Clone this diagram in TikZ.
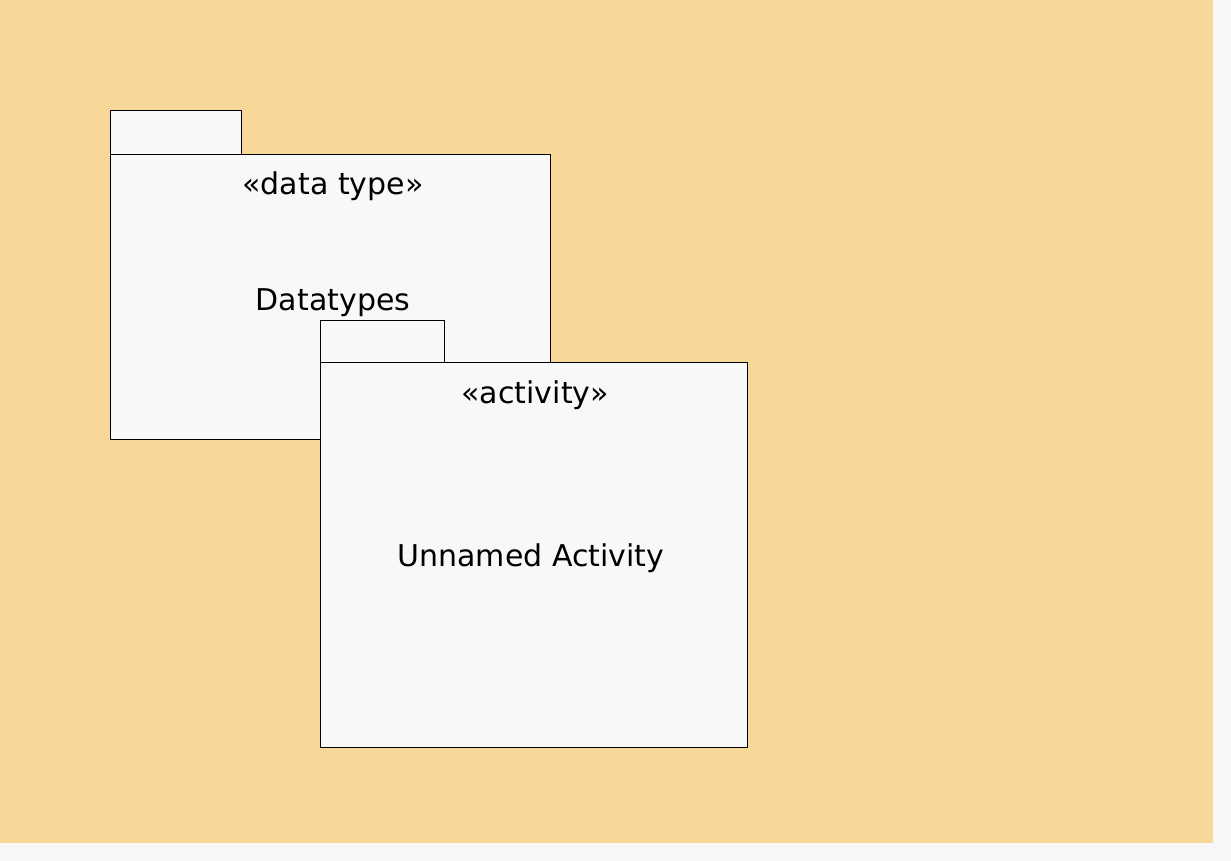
\documentclass[tikz,border=0pt]{standalone}
\usepackage{fontspec}
\setmainfont{DejaVu Sans}
\definecolor{bgorange}{HTML}{F7D898}
\definecolor{pkgfill}{HTML}{F8F8F8}
\begin{document}
\begin{tikzpicture}[x=1pt,y=-1pt,
  pkg/.style={draw=black,fill=pkgfill,line width=0.8pt},
  lbl/.style={font=\fontsize{30}{36}\selectfont,inner sep=0pt,anchor=base}]
\fill[pkgfill] (0,0) rectangle (1231,861);
\useasboundingbox (0,0) rectangle (1231,861);
\fill[bgorange] (0,0) rectangle (1213,843);
% package 1
\draw[pkg] (110,110) rectangle (241,154);
\draw[pkg] (110,154) rectangle (550,439);
\node[lbl] (st1) at (333,195) {«data type»};
\node[lbl] (nm1) at (333,310) {Datatypes};
% package 2
\draw[pkg] (320,320) rectangle (444,362);
\draw[pkg] (320,362) rectangle (747,747);
\node[lbl] (st2) at (535,403) {«activity»};
\node[lbl] (nm2) at (531,566) {Unnamed Activity};
\end{tikzpicture}
\end{document}
